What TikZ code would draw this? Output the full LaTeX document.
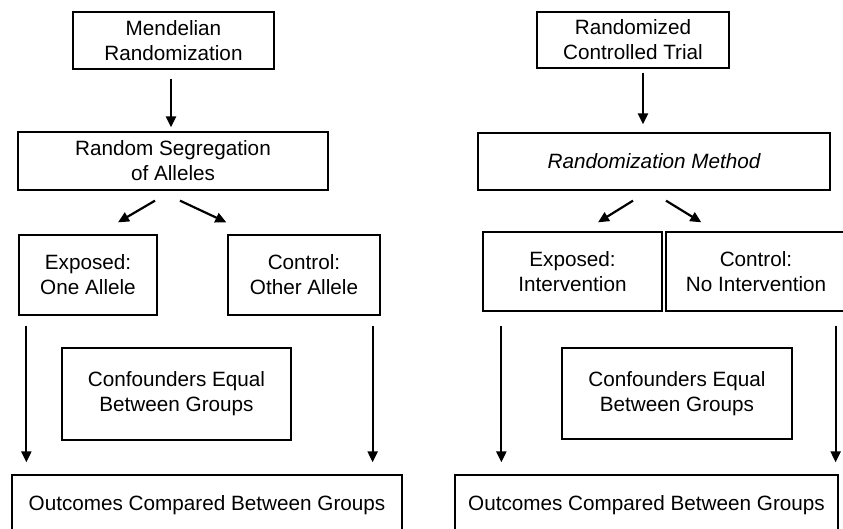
\documentclass[tikz,border=0pt]{standalone}
\usepackage{fontspec}
\setmainfont{Liberation Sans}
\usetikzlibrary{arrows.meta,calc}

\begin{document}
\begin{tikzpicture}[
    x=1pt, y=-1pt,
    font=\fontsize{20.7}{25}\selectfont,
    box/.style={draw, line width=1.3pt, align=center, inner sep=0pt},
    arrow/.style={line width=2.2pt, arrows={-Triangle[length=11pt, width=10pt]}}
]
\useasboundingbox (0,0) rectangle (843,528);
\clip (0,0) rectangle (843,528);

% 1) Left column: Mendelian randomization
\node[box, minimum width=201pt, minimum height=57pt] (mr) at (173.5,40.5) {Mendelian\\Randomization};
\node[box, minimum width=310pt, minimum height=58pt] (seg) at (173,161) {Random Segregation\\of Alleles};
\draw[arrow] ([shift={(-2.5,9)}]mr.south) -- ([shift={(-2,-4)}]seg.north);

% 2) Left groups
\node[box, minimum width=138pt, minimum height=80pt] (expA) at (88,275) {Exposed:\\One Allele};
\node[box, minimum width=152pt, minimum height=80pt] (ctlA) at (304,275) {Control:\\Other Allele};
\draw[arrow] ([shift={(-18,10)}]seg.south) -- ([shift={(30,-12)}]expA.north);
\draw[arrow] ([shift={(7,10)}]seg.south) -- ([shift={(-1,-12)}]ctlA.north west);

% 3) Left confounders and outcomes
\node[box, minimum width=229pt, minimum height=92pt] (confA) at (176.5,394) {Confounders Equal\\Between Groups};
\node[box, minimum width=390pt, minimum height=60pt] (outA) at (207,505) {Outcomes Compared Between Groups};
\draw[arrow] ([shift={(8,10)}]expA.south west) -- ([shift={(15,-12)}]outA.north west);
\draw[arrow] ([shift={(-8,10)}]ctlA.south east) -- ([shift={(-30,-12)}]outA.north east);

% 4) Right column: randomized controlled trial
\node[box, minimum width=192pt, minimum height=56pt] (rct) at (633,40) {Randomized\\Controlled Trial};
\node[box, minimum width=352pt, minimum height=57pt] (meth) at (654,161.5) {\itshape Randomization Method};
\draw[arrow] ([shift={(10,4)}]rct.south) -- ([shift={(-11,-8)}]meth.north);

% 5) Right groups
\node[box, minimum width=179pt, minimum height=79pt] (expB) at (572.5,271.5) {Exposed:\\Intervention};
\node[box, minimum width=180pt, minimum height=79pt] (ctlB) at (756,271.5) {Control:\\No Intervention};
\draw[arrow] ([shift={(-21,10)}]meth.south) -- ([shift={(25.5,-9)}]expB.north);
\draw[arrow] ([shift={(12,10)}]meth.south) -- ([shift={(36,-9)}]ctlB.north west);

% 6) Right confounders and outcomes
\node[box, minimum width=230pt, minimum height=91pt] (confB) at (677,393.5) {Confounders Equal\\Between Groups};
\node[box, minimum width=383pt, minimum height=60pt] (outB) at (646.5,505) {Outcomes Compared Between Groups};
\draw[arrow] ([shift={(19,14)}]expB.south west) -- ([shift={(47,-12)}]outB.north west);
\draw[arrow] ([shift={(-11,14)}]ctlB.south east) -- ([shift={(-3,-12)}]outB.north east);
\end{tikzpicture}
\end{document}
